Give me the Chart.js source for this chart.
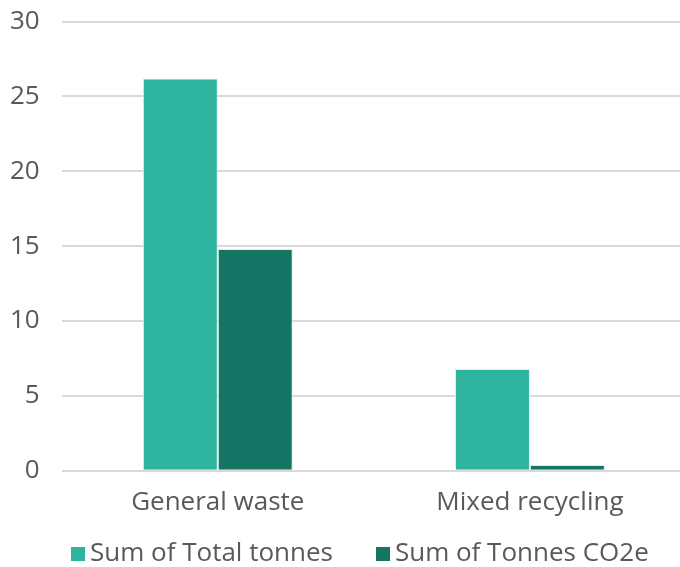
<!DOCTYPE html>
<html lang="en">
<head>
    <meta charset="UTF-8">
    <title>Waste tonnes</title>
    <script src="https://cdn.jsdelivr.net/npm/chart.js"></script>
    <style>
        html, body {
            margin: 0;
            padding: 0;
            background: #ffffff;
            overflow: hidden;
            width: 680px;
            height: 567px;
            position: relative;
        }
        .wrap {
            position: absolute;
            top: -16px;
            left: -16px;
            width: 702px;
            height: 583px;
        }
        .leyenda {
            position: absolute;
            left: 71px;
            top: 536px;
            font-family: 'Open Sans', sans-serif;
            font-size: 26px;
            line-height: 31px;
            color: #595959;
            white-space: nowrap;
        }
        .item { margin-right: 43px; }
        .item:last-child { margin-right: 0; }
        .caja {
            display: inline-block;
            width: 14px;
            height: 14px;
            margin-right: 5px;
            vertical-align: baseline;
        }
    </style>
</head>
<body>
    <div class="wrap">
        <canvas id="chart"></canvas>
    </div>
    <div class="leyenda" id="leyenda"></div>

    <script>
        const categorias = ["General waste", "Mixed recycling"];
        const totalTonnes = [26.2, 6.8];
        const tonnesCO2e = [14.82, 0.38];
        const ticksY = [0, 5, 10, 15, 20, 25, 30];

        const gris = "#595959";
        const fuente = "'Open Sans', sans-serif";

        const chart = new Chart(document.getElementById("chart"), {
            type: 'bar',
            data: {
                labels: categorias,
                datasets: [{
                    label: 'Sum of Total tonnes',
                    data: totalTonnes,
                    backgroundColor: '#2EB39E',
                    borderColor: '#D8F0EB',
                    borderWidth: 1
                }, {
                    label: 'Sum of Tonnes CO2e',
                    data: tonnesCO2e,
                    backgroundColor: '#147565',
                    borderColor: '#D8ECE8',
                    borderWidth: 1
                }]
            },
            options: {
                responsive: true,
                maintainAspectRatio: false,
                animation: false,
                layout: { padding: { top: -6, left: 4, right: 0, bottom: 33 } },
                datasets: {
                    bar: { categoryPercentage: 0.48, barPercentage: 1 }
                },
                scales: {
                    x: {
                        grid: { display: false, drawTicks: false },
                        border: { display: false },
                        ticks: {
                            color: gris,
                            font: { family: fuente, size: 26 },
                            padding: 16
                        }
                    },
                    y: {
                        min: 0,
                        max: 30,
                        afterBuildTicks: axis => { axis.ticks = ticksY.map(v => ({ value: v })); },
                        grid: { color: '#D9D9D9', lineWidth: 2, drawTicks: false },
                        border: { display: false },
                        ticks: {
                            color: gris,
                            font: { family: fuente, size: 26 },
                            padding: 22
                        }
                    }
                },
                plugins: {
                    tooltip: { enabled: false },
                    legend: { display: false }
                }
            }
        });

        // leyenda en HTML, a partir de los datasets del grafico
        const leyenda = document.getElementById("leyenda");
        chart.data.datasets.forEach(ds => {
            const item = document.createElement("span");
            item.className = "item";
            const caja = document.createElement("span");
            caja.className = "caja";
            caja.style.background = ds.backgroundColor;
            item.appendChild(caja);
            item.appendChild(document.createTextNode(ds.label));
            leyenda.appendChild(item);
        });
    </script>
</body>
</html>
